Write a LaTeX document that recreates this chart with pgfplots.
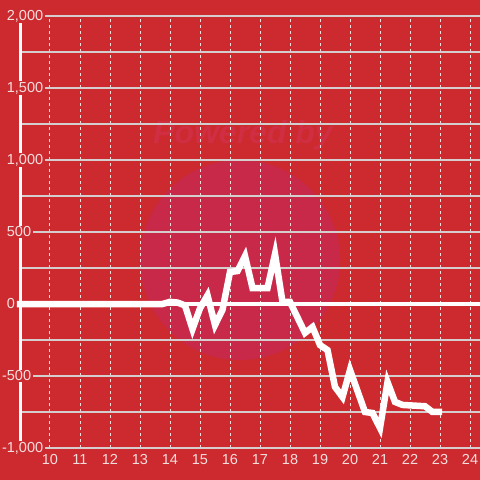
\documentclass[border=0pt]{standalone}
\usepackage{fontspec}
\setmainfont{Liberation Sans}
\usepackage{pgfplots}
\pgfplotsset{compat=1.18}
\definecolor{bg}{RGB}{204,42,46}
\definecolor{circ}{RGB}{201,41,72}
\definecolor{wm}{RGB}{208,46,66}
\definecolor{gridc}{RGB}{212,206,206}
\definecolor{lab}{RGB}{243,222,222}
\begin{document}
\begin{tikzpicture}
\fill[bg] (0pt,0pt) rectangle (480pt,480pt);
\fill[circ] (240pt,220pt) circle (100pt);
\node[wm, font=\fontsize{32}{34}\selectfont\bfseries\itshape] at (243pt,345pt) {Powered by};
\draw[white, line width=3pt] (20.5pt,32pt) -- (20.5pt,464pt);
\begin{axis}[
  at={(22pt,32pt)}, anchor=south west,
  scale only axis, width=458pt, height=432pt,
  xmin=9.0667, xmax=24.3333, ymin=-1000, ymax=2000,
  clip=false,
  axis line style={draw=none},
  tick style={draw=none},
  xtick={10,...,24},
  ytick={-1000,-500,...,2000},
  minor ytick={-750,-250,...,1750},
  yticklabels={{\llap{-}1,000},{\llap{-}500},0,500,{1,000},{1,500},{2,000}},
  xmajorgrids, ymajorgrids, yminorgrids,
  major x grid style={draw=lab, line width=1pt, dash pattern=on 3pt off 3pt},
  major y grid style={draw=gridc, line width=1.3pt},
  minor y grid style={draw=gridc, line width=1.3pt},
  tick label style={font=\fontsize{14.5}{16}\selectfont, text=lab},
  /pgf/number format/assume math mode=true,
  xticklabel style={yshift=-3.3pt},
  yticklabel style={anchor=west, xshift=-17.3pt, inner xsep=2pt, inner ysep=1pt, fill=bg},
]
\addplot[white, line width=4.5pt, forget plot] coordinates {(8.9,0) (24.3333,0)};
\addplot[white, line width=6.5pt, line join=miter] coordinates {
(8.9,0) (13.75,0) (14.0,15) (14.25,10) (14.5,-10) (14.75,-174) (15.0,-30) (15.25,60)
(15.5,-146) (15.75,-40) (16.0,222) (16.25,229) (16.5,333) (16.75,111) (17.0,111)
(17.25,111) (17.5,347) (17.75,14) (18.0,14) (18.5,-201) (18.75,-160) (19.0,-285)
(19.25,-320) (19.5,-576) (19.75,-646) (20.0,-458) (20.5,-750) (20.75,-757)
(21.0,-861) (21.25,-542) (21.5,-680) (21.75,-701) (22.5,-710) (22.75,-750) (23.07,-750)
};
\end{axis}
\pgfresetboundingbox
\useasboundingbox (0pt,0pt) rectangle (480pt,480pt);
\end{tikzpicture}
\end{document}
